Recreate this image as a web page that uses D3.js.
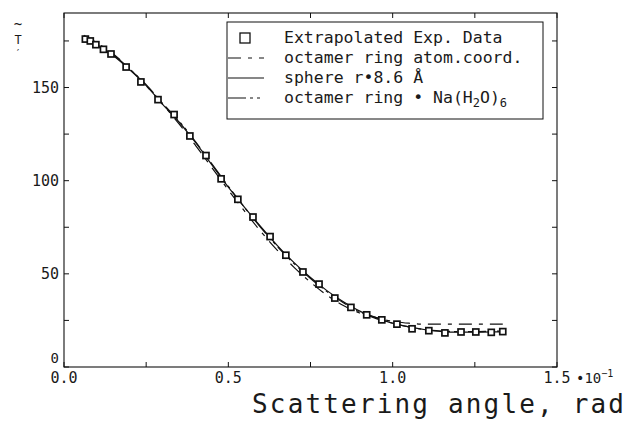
<!DOCTYPE html>
<html>
<head>
<meta charset="utf-8">
<script src="https://cdn.jsdelivr.net/npm/d3@7"></script>
<style>
  body { margin: 0; background: #fff; }
  svg text { font-family: "DejaVu Sans Mono", "Liberation Mono", monospace; fill: #1a1a1a; }
</style>
</head>
<body>
<svg id="chart" width="632" height="424"></svg>
<script>
const expAngle = [0.065, 0.08, 0.097, 0.12, 0.143, 0.189, 0.234, 0.286, 0.335, 0.383, 0.432, 0.478,
  0.529, 0.575, 0.627, 0.675, 0.727, 0.776, 0.824, 0.873, 0.921, 0.967, 1.013, 1.059, 1.11, 1.159,
  1.208, 1.253, 1.30, 1.335];
const expIntensity = [176, 175, 173, 170.5, 168, 161, 153, 143.5, 135.5, 124, 113.5, 101,
  90, 80.5, 70, 60, 51, 44.5, 37, 32, 28, 25.3, 23, 20.5, 19.5, 18.3,
  18.8, 18.8, 18.6, 19];

const fitAngle = [0.06, 0.10, 0.15, 0.20, 0.25, 0.30, 0.35, 0.40, 0.45, 0.50, 0.55, 0.60, 0.65,
  0.70, 0.75, 0.80, 0.85, 0.90, 0.95, 1.00, 1.05, 1.10, 1.15, 1.20, 1.25, 1.30, 1.335];
const atomCoord = [178, 174, 168, 160, 151, 141, 130.5, 119, 107, 95, 83.5, 72.5, 62.5,
  53.5, 45.5, 38.5, 33, 29, 26.5, 24.5, 23.5, 23, 23, 23, 23, 23, 23];
const sphere = [176, 172.5, 167, 159.5, 151, 141, 131.5, 120.5, 108.5, 96.5, 85.5, 75, 65,
  56, 48, 41, 35, 30, 26.5, 23.5, 21.5, 20, 19, 18.7, 18.7, 18.8, 18.8];
const hydrated = [177, 173, 167.5, 160, 151.5, 141.5, 132, 121, 109, 97, 85.5, 74.5, 64.5,
  55.5, 47.5, 40.5, 34.5, 29.5, 26, 23.5, 21.5, 20, 19.3, 19, 19, 19.2, 19.3];

const xTicks = [0, 0.25, 0.5, 0.75, 1.0, 1.25, 1.5];
const xLabels = ['0.0', '', '0.5', '', '1.0', '', '1.5'];
const yTicks = [0, 25, 50, 75, 100, 125, 150, 175];
const yLabels = ['0', '', '50', '', '100', '', '150', ''];

const series = [
  { name: 'octamer ring atom.coord.', values: atomCoord, dash: '13,7,4,7' },
  { name: 'sphere r\u20228.6 \u00c5', values: sphere, dash: null },
  { name: 'octamer ring \u2022 Na(H', values: hydrated, dash: '18,4,3,4,3,4' }
];

const svg = d3.select('#chart');
const x = d3.scaleLinear().domain([0, 1.5]).range([64, 557]);
const y = d3.scaleLinear().domain([0, 190]).range([367, 13]);

// frame
svg.append('rect')
  .attr('x', x(0)).attr('y', y(190))
  .attr('width', x(1.5) - x(0)).attr('height', y(0) - y(190))
  .attr('fill', 'none').attr('stroke', '#111').attr('stroke-width', 1.1);

const tickLen = 5;
svg.append('g').selectAll('line').data(xTicks).join('line')
  .attr('x1', d => x(d)).attr('x2', d => x(d))
  .attr('y1', y(0)).attr('y2', y(0) - tickLen)
  .attr('stroke', '#111');
svg.append('g').selectAll('line').data(xTicks).join('line')
  .attr('x1', d => x(d)).attr('x2', d => x(d))
  .attr('y1', y(190)).attr('y2', y(190) + tickLen)
  .attr('stroke', '#111');
svg.append('g').selectAll('line').data(yTicks).join('line')
  .attr('x1', x(0)).attr('x2', x(0) + tickLen)
  .attr('y1', d => y(d)).attr('y2', d => y(d))
  .attr('stroke', '#111');
svg.append('g').selectAll('line').data(yTicks).join('line')
  .attr('x1', x(1.5)).attr('x2', x(1.5) - tickLen)
  .attr('y1', d => y(d)).attr('y2', d => y(d))
  .attr('stroke', '#111');

svg.append('g').selectAll('text').data(xTicks).join('text')
  .attr('x', d => x(d)).attr('y', y(0) + 16)
  .attr('text-anchor', 'middle')
  .attr('font-size', 15)
  .text((d, i) => xLabels[i]);

const exponent = svg.append('text')
  .attr('x', x(1.5) + 19).attr('y', y(0) + 16)
  .attr('font-size', 14);
exponent.append('tspan').text('\u202210');
exponent.append('tspan').attr('dy', -6).attr('font-size', 10).text('\u22121');

svg.append('g').selectAll('text').data(yTicks).join('text')
  .attr('x', x(0) - 5)
  .attr('y', d => d === 0 ? y(d) - 4 : y(d) + 5)
  .attr('text-anchor', 'end')
  .attr('font-size', d => d === 0 ? 14 : 15)
  .text((d, i) => yLabels[i]);

// y-axis symbol
svg.append('text').attr('x', 18).attr('y', 29).attr('text-anchor', 'middle').attr('font-size', 14).text('~');
svg.append('text').attr('x', 18).attr('y', 44).attr('text-anchor', 'middle').attr('font-size', 12).text('T');
svg.append('text').attr('x', 18).attr('y', 57).attr('text-anchor', 'middle').attr('font-size', 10).text('\u2032');

svg.append('text')
  .attr('x', 252).attr('y', 413)
  .attr('font-size', 26)
  .attr('textLength', 372).attr('lengthAdjust', 'spacing')
  .text('Scattering angle, rad');

// fits
const line = d3.line()
  .x((d, i) => x(fitAngle[i]))
  .y(d => y(d))
  .curve(d3.curveMonotoneX);

svg.append('g').selectAll('path').data(series).join('path')
  .attr('d', d => line(d.values))
  .attr('fill', 'none')
  .attr('stroke', '#111')
  .attr('stroke-width', 1.2)
  .attr('stroke-dasharray', d => d.dash);

const sq = 6;
svg.append('g').selectAll('rect').data(expAngle).join('rect')
  .attr('x', d => x(d) - sq / 2)
  .attr('y', (d, i) => y(expIntensity[i]) - sq / 2)
  .attr('width', sq).attr('height', sq)
  .attr('fill', '#fff')
  .attr('stroke', '#111')
  .attr('stroke-width', 1.7);

// legend
const legend = svg.append('g');
legend.append('rect')
  .attr('x', 227).attr('y', 22).attr('width', 316).attr('height', 97)
  .attr('fill', '#fff').attr('stroke', '#111').attr('stroke-width', 1);

const rowY = [38, 58, 78, 98];
legend.append('rect')
  .attr('x', 240).attr('y', rowY[0] - 5).attr('width', 10).attr('height', 10)
  .attr('fill', 'none').attr('stroke', '#111').attr('stroke-width', 1.3);
legend.append('text')
  .attr('x', 284).attr('y', rowY[0] + 5).attr('font-size', 16.5)
  .text('Extrapolated Exp. Data');

series.forEach((s, i) => {
  const ry = rowY[i + 1];
  legend.append('line')
    .attr('x1', 228).attr('x2', 264).attr('y1', ry).attr('y2', ry)
    .attr('stroke', '#111').attr('stroke-width', 1.2)
    .attr('stroke-dasharray', s.dash);
  const t = legend.append('text')
    .attr('x', 284).attr('y', ry + 5).attr('font-size', 16.5)
    .text(s.name);
  if (i === 2) {
    t.append('tspan').attr('dy', 4).attr('font-size', 12).text('2');
    t.append('tspan').attr('dy', -4).text('O)');
    t.append('tspan').attr('dy', 4).attr('font-size', 12).text('6');
  }
});
</script>
</body>
</html>
